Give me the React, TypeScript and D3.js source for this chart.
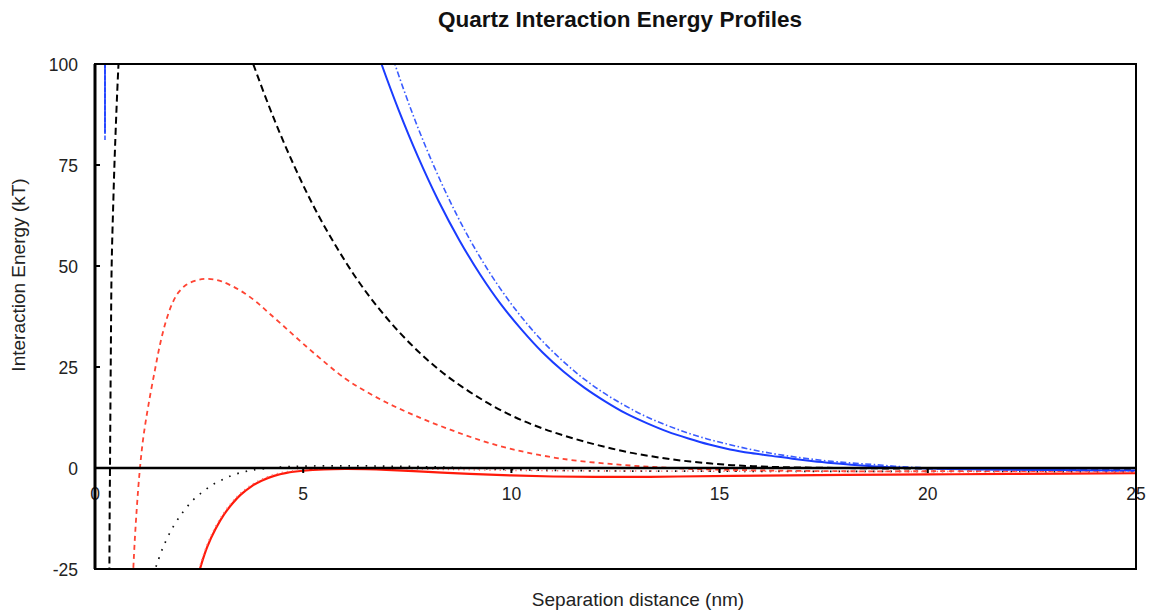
import React from "react";
import * as d3 from "d3";

type Pt = [number, number];

// Axis ranges and ticks
const xDomain: [number, number] = [0, 25];
const yDomain: [number, number] = [-25, 100];
const xTicks = [0, 5, 10, 15, 20, 25];
const yTicks = [-25, 0, 25, 50, 75, 100];

// Interaction energy (kT) versus separation (nm)
const blueSolidSpike: Pt[] = [[0.232, 400], [0.24, 83], [0.248, 400]];
const blueSolid: Pt[] = [
  [6.5, 111.5], [6.88, 100], [7.3, 88.4], [7.75, 77.2], [8.25, 66.1], [8.75, 56.4],
  [9.25, 47.9], [9.75, 40.5], [10.25, 34.2], [10.75, 28.6], [11.25, 23.9],
  [11.75, 19.9], [12.25, 16.5], [12.75, 13.5], [13.25, 11.1], [13.75, 9.0],
  [14.25, 7.3], [14.75, 5.8], [15.25, 4.6], [15.75, 3.7], [16.25, 3.0],
  [16.75, 2.3], [17.25, 1.7], [17.75, 1.2], [18.25, 0.75], [18.75, 0.4],
  [19.25, 0.15], [19.75, -0.05], [20.5, -0.25], [21.5, -0.4], [23, -0.5], [25, -0.6],
];

const blueDashSpike: Pt[] = [[0.234, 400], [0.24, 81], [0.246, 400]];
const blueDash: Pt[] = [
  [6.8, 112.8], [7.2, 100], [7.7, 85.7], [8.2, 73.3], [8.7, 62.4], [9.2, 53.0],
  [9.7, 44.9], [10.2, 37.9], [10.7, 31.9], [11.2, 26.8], [11.7, 22.4],
  [12.2, 18.7], [12.7, 15.6], [13.2, 12.9], [13.7, 10.7], [14.2, 8.8],
  [14.7, 7.2], [15.2, 5.9], [15.7, 4.7], [16.2, 3.7], [16.7, 2.9], [17.2, 2.2],
  [17.7, 1.65], [18.2, 1.2], [18.7, 0.85], [19.2, 0.45], [19.7, 0.15],
  [20.3, -0.1], [21, -0.3], [22.5, -0.5], [25, -0.7],
];

const blackDashed: Pt[] = [
  [0.34, -40], [0.35, -15], [0.36, 0], [0.38, 28], [0.4, 50], [0.44, 66],
  [0.48, 79], [0.56, 99], [0.65, 115], [1.5, 220], [3, 150], [3.5, 109],
  [3.8, 100], [4.3, 86.4], [4.8, 74.4], [5.3, 63.8], [5.8, 54.7], [6.3, 46.6],
  [6.8, 39.7], [7.3, 33.7], [7.8, 28.5], [8.3, 24.0], [8.8, 20.2], [9.3, 16.9],
  [9.8, 14.0], [10.3, 11.6], [10.8, 9.6], [11.3, 7.9], [11.8, 6.4], [12.3, 5.1],
  [12.8, 3.9], [13.3, 3.0], [13.8, 2.2], [14.3, 1.6], [14.8, 1.1], [15.3, 0.7],
  [15.8, 0.45], [16.5, 0.2], [17.5, 0.05], [19, -0.1], [25, -0.2],
];

const redDashed: Pt[] = [
  [0.85, -47], [0.92, -25], [1.0, -10.5], [1.08, 0], [1.16, 7.5], [1.28, 15.4],
  [1.44, 24.3], [1.56, 30.5], [1.7, 36.2], [1.85, 40.6], [2.0, 43.4],
  [2.2, 45.4], [2.45, 46.5], [2.64, 46.8], [2.85, 46.7], [3.04, 46.2],
  [3.3, 45.0], [3.6, 43.2], [3.9, 40.9], [4.16, 38.5], [4.5, 35.4], [4.8, 32.6],
  [5.24, 28.6], [6, 22.2], [6.5, 19], [7, 16.2], [7.5, 13.8], [8, 11.6],
  [8.53, 9.5], [9.1, 7.4], [9.73, 5.4], [10.3, 4.0], [10.9, 2.8], [11.5, 1.9],
  [12.5, 0.9], [13.5, 0.2], [14.5, -0.3], [16, -0.6], [18, -0.8], [20, -0.8],
  [25, -0.7],
];

const blackDotted: Pt[] = [
  [1.4, -26.5], [1.48, -24], [1.64, -19.5], [1.88, -14.5], [2.12, -10.8],
  [2.36, -7.9], [2.6, -5.8], [2.84, -4.0], [3.08, -2.8], [3.32, -1.7],
  [3.6, -0.9], [3.8, -0.5], [4.2, 0], [4.6, 0.3], [5, 0.45], [6, 0.55],
  [7, 0.45], [8, 0.3], [9, 0], [10, -0.4], [12, -0.7], [15, -0.8],
  [20, -0.85], [25, -0.9],
];

const redSolid: Pt[] = [
  [2.4, -29.8], [2.52, -25], [2.7, -19.4], [2.9, -15.0], [3.1, -11.5],
  [3.3, -8.8], [3.5, -6.6], [3.75, -4.6], [4.0, -3.15], [4.3, -1.95],
  [4.6, -1.2], [5.0, -0.68], [5.5, -0.35], [6, -0.25], [6.5, -0.3], [7, -0.45],
  [8, -0.95], [9, -1.45], [10, -1.85], [11, -2.1], [12, -2.2], [13, -2.2],
  [14, -2.1], [16, -1.9], [18, -1.7], [20, -1.6], [22, -1.45], [25, -1.3],
];

const redDotted: Pt[] = [
  [2.4, -29], [2.52, -24.3], [2.7, -18.8], [2.9, -14.4], [3.1, -11.0],
  [3.3, -8.3], [3.5, -6.2], [3.75, -4.2], [4.0, -2.8], [4.3, -1.6], [4.6, -0.9],
  [5, -0.4], [5.5, -0.1], [6, 0], [7, -0.1], [8, -0.3], [10, -0.6], [15, -0.8],
  [25, -0.9],
];

const W = 1158;
const H = 613;
const plot = { left: 95, right: 1136, top: 64, bottom: 569 };
const FONT = "'Liberation Sans', Arial, Helvetica, sans-serif";

export default function App() {
  const x = d3.scaleLinear().domain(xDomain).range([plot.left, plot.right]);
  const y = d3.scaleLinear().domain(yDomain).range([plot.bottom, plot.top]);

  const smooth = d3
    .line<Pt>()
    .x((d) => x(d[0]))
    .y((d) => y(d[1]))
    .curve(d3.curveCatmullRom.alpha(0.5));
  const straight = d3
    .line<Pt>()
    .x((d) => x(d[0]))
    .y((d) => y(d[1]));

  const paths: { d: string; stroke: string; width: number; dash?: string }[] = [
    { d: smooth(blackDotted)!, stroke: "#111", width: 1.7, dash: "1.6,7" },
    { d: smooth(redDashed)!, stroke: "#ff4433", width: 1.8, dash: "5,4" },
    { d: smooth(blackDashed)!, stroke: "#000", width: 2, dash: "7,4" },
    { d: smooth(blueDash)!, stroke: "#3a5cff", width: 1.6, dash: "6,2.5,1.5,2.5" },
    { d: straight(blueDashSpike)!, stroke: "#3a5cff", width: 1.6, dash: "4,2" },
    { d: smooth(blueSolid)!, stroke: "#1a3cff", width: 2 },
    { d: straight(blueSolidSpike)!, stroke: "#1a3cff", width: 1.6 },
    { d: smooth(redSolid)!, stroke: "#ff1a0a", width: 2.2 },
    { d: smooth(redDotted)!, stroke: "#ff6a6a", width: 1.4, dash: "1.2,4" },
  ];

  return (
    <svg
      width={W}
      height={H}
      style={{ position: "absolute", left: 0, top: 0, background: "#fff" }}
      fontFamily={FONT}
    >
      <defs>
        <clipPath id="plot-area">
          <rect
            x={plot.left}
            y={plot.top}
            width={plot.right - plot.left}
            height={plot.bottom - plot.top}
          />
        </clipPath>
      </defs>

      <text
        x={620}
        y={27}
        textAnchor="middle"
        fontSize={22.5}
        fontWeight="bold"
        fill="#111"
      >
        Quartz Interaction Energy Profiles
      </text>

      <g clipPath="url(#plot-area)">
        {paths.map((p, i) => (
          <path
            key={i}
            d={p.d}
            fill="none"
            stroke={p.stroke}
            strokeWidth={p.width}
            strokeDasharray={p.dash}
          />
        ))}
      </g>

      {/* zero line acting as the x axis */}
      <line
        x1={plot.left}
        x2={plot.right}
        y1={y(0)}
        y2={y(0)}
        stroke="#000"
        strokeWidth={2.4}
      />
      {xTicks.map((t) => (
        <g key={"xt" + t}>
          <line x1={x(t)} x2={x(t)} y1={y(0)} y2={y(0) + 5} stroke="#000" strokeWidth={2} />
          <text x={x(t)} y={y(0) + 32} textAnchor="middle" fontSize={17.5} fill="#222">
            {t}
          </text>
        </g>
      ))}
      {yTicks.map((t) => (
        <g key={"yt" + t}>
          <line x1={plot.left} x2={plot.left + 5} y1={y(t)} y2={y(t)} stroke="#000" strokeWidth={2} />
          <text x={plot.left - 17} y={y(t)} dy="0.4em" textAnchor="end" fontSize={17.5} fill="#222">
            {t}
          </text>
        </g>
      ))}

      {/* frame */}
      <rect
        x={plot.left}
        y={plot.top}
        width={plot.right - plot.left}
        height={plot.bottom - plot.top}
        fill="none"
        stroke="#000"
        strokeWidth={2}
      />
      <line x1={plot.left} x2={plot.left} y1={plot.top} y2={plot.bottom} stroke="#000" strokeWidth={3} />

      <text x={638} y={606} textAnchor="middle" fontSize={19} fill="#222">
        Separation distance (nm)
      </text>
      <text
        transform="translate(25,275) rotate(-90)"
        textAnchor="middle"
        fontSize={19}
        fill="#222"
      >
        Interaction Energy (kT)
      </text>
    </svg>
  );
}
